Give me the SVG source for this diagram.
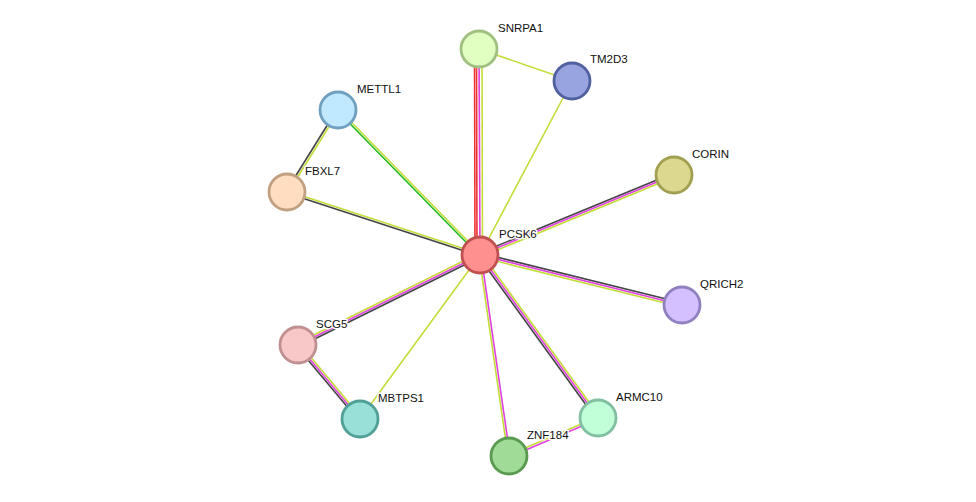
<svg xmlns="http://www.w3.org/2000/svg" width="976" height="502" viewBox="0 0 976 502">
<style>
line{stroke-width:1.6;fill:none}
.y{stroke:#c4dc38}.m{stroke:#e040e0}.k{stroke:#444}.g{stroke:#22bb22}.r{stroke:#ee3333}
circle{stroke-width:2.8}
text{font-family:"Liberation Sans",Arial,sans-serif;font-size:11.5px;fill:#111;stroke:#fff;stroke-width:3;paint-order:stroke;stroke-linejoin:round}
</style>
<rect width="976" height="502" fill="#fff"/>
<g id="edges">
<line class="r" x1="475" y1="255" x2="474.5" y2="49"/>
<line class="r" x1="477" y1="255" x2="476.5" y2="49"/>
<line class="m" x1="480" y1="255" x2="479" y2="49"/>
<line class="y" x1="482.5" y1="255" x2="482" y2="49"/>
<line class="y" x1="479" y1="49" x2="572" y2="81"/>
<line class="y" x1="480" y1="255" x2="572" y2="81"/>
<line class="y" x1="480.7" y1="254.3" x2="338.7" y2="109.3"/>
<line class="g" x1="479.3" y1="255.7" x2="337.3" y2="110.7"/>
<line class="k" x1="337" y1="109.5" x2="286" y2="191.5"/>
<line class="y" x1="339" y1="110.5" x2="288" y2="192.5"/>
<line class="y" x1="480.3" y1="254" x2="287.3" y2="191"/>
<line class="k" x1="479.7" y1="256" x2="286.7" y2="193"/>
<line class="k" x1="479.2" y1="253.2" x2="673.2" y2="173.2"/>
<line class="m" x1="480" y1="255" x2="674" y2="175"/>
<line class="y" x1="480.8" y1="256.8" x2="674.8" y2="176.8"/>
<line class="k" x1="480.5" y1="253" x2="682.5" y2="303"/>
<line class="m" x1="480" y1="255" x2="682" y2="305"/>
<line class="y" x1="479.5" y1="257" x2="681.5" y2="307"/>
<line class="y" x1="479.1" y1="253.2" x2="297.1" y2="343.2"/>
<line class="m" x1="480" y1="255" x2="298" y2="345"/>
<line class="k" x1="480.9" y1="256.8" x2="298.9" y2="346.8"/>
<line class="k" x1="296.5" y1="346.3" x2="358.5" y2="420.3"/>
<line class="m" x1="298" y1="345" x2="360" y2="419"/>
<line class="y" x1="299.5" y1="343.7" x2="361.5" y2="417.7"/>
<line class="y" x1="480" y1="255" x2="360" y2="419"/>
<line class="y" x1="479" y1="255.1" x2="508" y2="456.1"/>
<line class="m" x1="481" y1="254.9" x2="510" y2="455.9"/>
<line class="k" x1="478.4" y1="256.2" x2="596.4" y2="419.2"/>
<line class="m" x1="480" y1="255" x2="598" y2="418"/>
<line class="y" x1="481.6" y1="253.8" x2="599.6" y2="416.8"/>
<line class="y" x1="508.6" y1="455.1" x2="597.6" y2="417.1"/>
<line class="m" x1="509.4" y1="456.9" x2="598.4" y2="418.9"/>
</g>
<g id="SNRPA1"><circle cx="479" cy="49" r="18" fill="#e0ffc0" stroke="#a0c080"/><text x="498" y="32">SNRPA1</text></g>
<g id="TM2D3"><circle cx="572" cy="81" r="18" fill="#98a4e0" stroke="#5060a0"/><text x="590" y="63">TM2D3</text></g>
<g id="METTL1"><circle cx="338" cy="110" r="18" fill="#c0e8ff" stroke="#70a0c0"/><text x="357" y="93">METTL1</text></g>
<g id="FBXL7"><circle cx="287" cy="192" r="18" fill="#ffddc0" stroke="#c0a080"/><text x="305" y="175">FBXL7</text></g>
<g id="CORIN"><circle cx="674" cy="175" r="18" fill="#dcd890" stroke="#a0a050"/><text x="692" y="158">CORIN</text></g>
<g id="QRICH2"><circle cx="682" cy="305" r="18" fill="#d4c0ff" stroke="#9080c0"/><text x="700" y="288">QRICH2</text></g>
<g id="SCG5"><circle cx="298" cy="345" r="18" fill="#f8c8c8" stroke="#c09090"/><text x="316" y="328">SCG5</text></g>
<g id="MBTPS1"><circle cx="360" cy="419" r="18" fill="#98e0d8" stroke="#50a098"/><text x="378" y="402">MBTPS1</text></g>
<g id="ZNF184"><circle cx="509" cy="456" r="18" fill="#a0dc98" stroke="#5a9a50"/><text x="527" y="439">ZNF184</text></g>
<g id="ARMC10"><circle cx="598" cy="418" r="18" fill="#c0ffd8" stroke="#80c0a0"/><text x="616" y="401">ARMC10</text></g>
<g id="PCSK6"><circle cx="480" cy="255" r="18" fill="#ff9090" stroke="#c05050"/><text x="499" y="238">PCSK6</text></g>
</svg>
